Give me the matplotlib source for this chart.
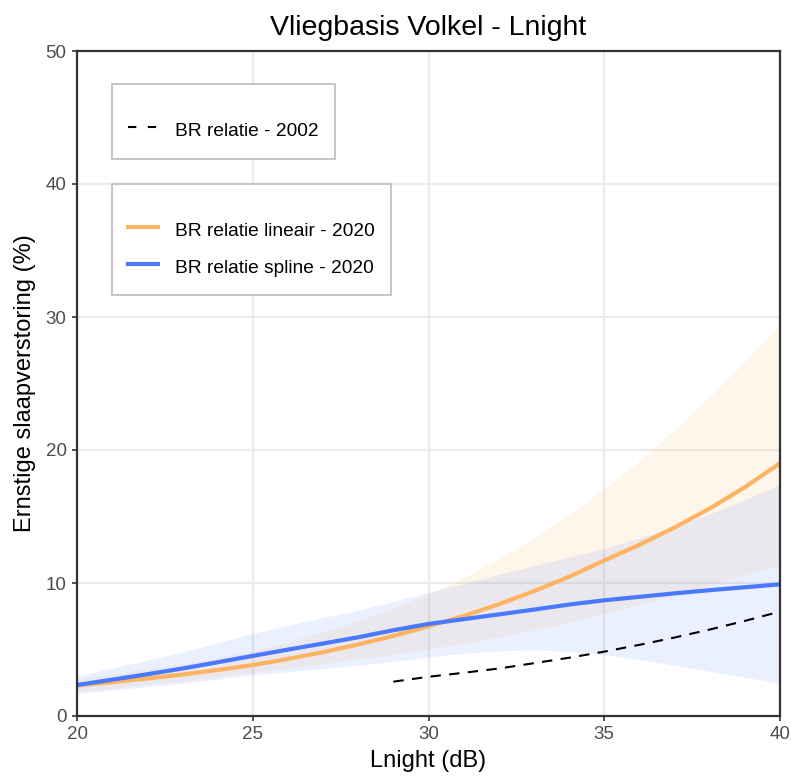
import matplotlib
matplotlib.use("Agg")
import matplotlib.pyplot as plt
from matplotlib.lines import Line2D

plt.rcParams['font.family'] = ['Liberation Sans', 'DejaVu Sans']

# Data (Lnight in dB, % severe sleep disturbance)
x = [20, 21, 22, 23, 24, 25, 26, 27, 28, 29, 30, 31, 32, 33, 34, 35, 36, 37, 38, 39, 40]
lin_mid = [2.30, 2.55, 2.82, 3.12, 3.46, 3.83, 4.29, 4.80, 5.38, 6.02, 6.74,
           7.52, 8.40, 9.38, 10.47, 11.69, 12.87, 14.17, 15.60, 17.20, 19.00]
lin_hi = [2.81, 3.14, 3.51, 3.92, 4.39, 4.90, 5.56, 6.30, 7.14, 8.09, 9.17,
          10.42, 11.82, 13.42, 15.17, 17.10, 19.20, 21.50, 24.00, 26.65, 29.50]
lin_lo = [1.85, 2.10, 2.37, 2.66, 2.96, 3.27, 3.60, 3.95, 4.30, 4.67, 5.02,
          5.48, 5.95, 6.48, 7.08, 7.70, 8.40, 9.10, 9.85, 10.60, 11.35]
spl_mid = [2.33, 2.73, 3.14, 3.57, 4.04, 4.52, 4.99, 5.45, 5.92, 6.45, 6.92,
           7.28, 7.64, 8.00, 8.38, 8.70, 8.96, 9.22, 9.46, 9.68, 9.90]
spl_hi = [3.00, 3.60, 4.20, 4.80, 5.50, 6.20, 6.80, 7.40, 7.95, 8.60, 9.30,
          9.95, 10.65, 11.30, 11.95, 12.60, 13.40, 14.25, 15.20, 16.25, 17.40]
spl_lo = [1.70, 1.95, 2.20, 2.47, 2.77, 3.08, 3.33, 3.58, 3.82, 4.10, 4.45,
          4.72, 4.90, 4.97, 4.85, 4.60, 4.25, 3.82, 3.37, 2.92, 2.46]
x2002 = [29, 30, 31, 32, 33, 34, 35, 36, 37, 38, 39, 40]
y2002 = [2.58, 2.95, 3.25, 3.57, 3.97, 4.38, 4.84, 5.35, 5.90, 6.50, 7.15, 7.85]

xticks = [20, 25, 30, 35, 40]
yticks = [0, 10, 20, 30, 40, 50]

c_orange = '#fdb462'
c_blue = '#4a78ff'

fig = plt.figure(figsize=(7.91, 7.77), dpi=100)
ax = fig.add_axes([77/791, 1-716/777, 703/791, 665/777])

ax.fill_between(x, lin_lo, lin_hi, color=c_orange, alpha=0.12, lw=0)
ax.fill_between(x, spl_lo, spl_hi, color=c_blue, alpha=0.11, lw=0)
ax.plot(x, lin_mid, color=c_orange, lw=3)
ax.plot(x, spl_mid, color=c_blue, lw=3)
ax.plot(x2002, y2002, color='black', lw=1.5, ls=(0, (5, 4)))

ax.set_xlim(20, 40)
ax.set_ylim(0, 50)
ax.set_xticks(xticks)
ax.set_yticks(yticks)
ax.grid(True, color='#ebebeb', lw=1.6)
ax.set_axisbelow(True)
for s in ax.spines.values():
    s.set_color('#333333')
    s.set_linewidth(1.6)
ax.tick_params(colors='#333333', labelcolor='#4d4d4d', labelsize=13.5, length=3.5, width=1.2, pad=4)

ax.set_title('Vliegbasis Volkel - Lnight', fontsize=20.5, pad=11.5)
ax.set_xlabel('Lnight (dB)', fontsize=17, labelpad=5)
ax.set_ylabel('Ernstige slaapverstoring (%)', fontsize=17, labelpad=7)

common = dict(loc='upper left', title=' ', fontsize=13.8, title_fontsize=4,
              fancybox=False, edgecolor='#bbbbbb', framealpha=1, handlelength=1.56,
              handleheight=1.58, handletextpad=0.85, borderpad=0.85, labelspacing=0.65,
              borderaxespad=0)

h1 = [Line2D([], [], color='black', lw=1.5, ls=(0, (4, 5.5)))]
leg1 = ax.legend(h1, ['BR relatie - 2002'], bbox_to_anchor=(0.05, 0.95), **common)
leg1.get_frame().set_linewidth(1.2)
ax.add_artist(leg1)

h2 = [Line2D([], [], color=c_orange, lw=3), Line2D([], [], color=c_blue, lw=3)]
leg2 = ax.legend(h2, ['BR relatie lineair - 2020', 'BR relatie spline - 2020'],
                 bbox_to_anchor=(0.05, 0.80), **common)
leg2.get_frame().set_linewidth(1.2)

fig.savefig('out.png', dpi=100)
